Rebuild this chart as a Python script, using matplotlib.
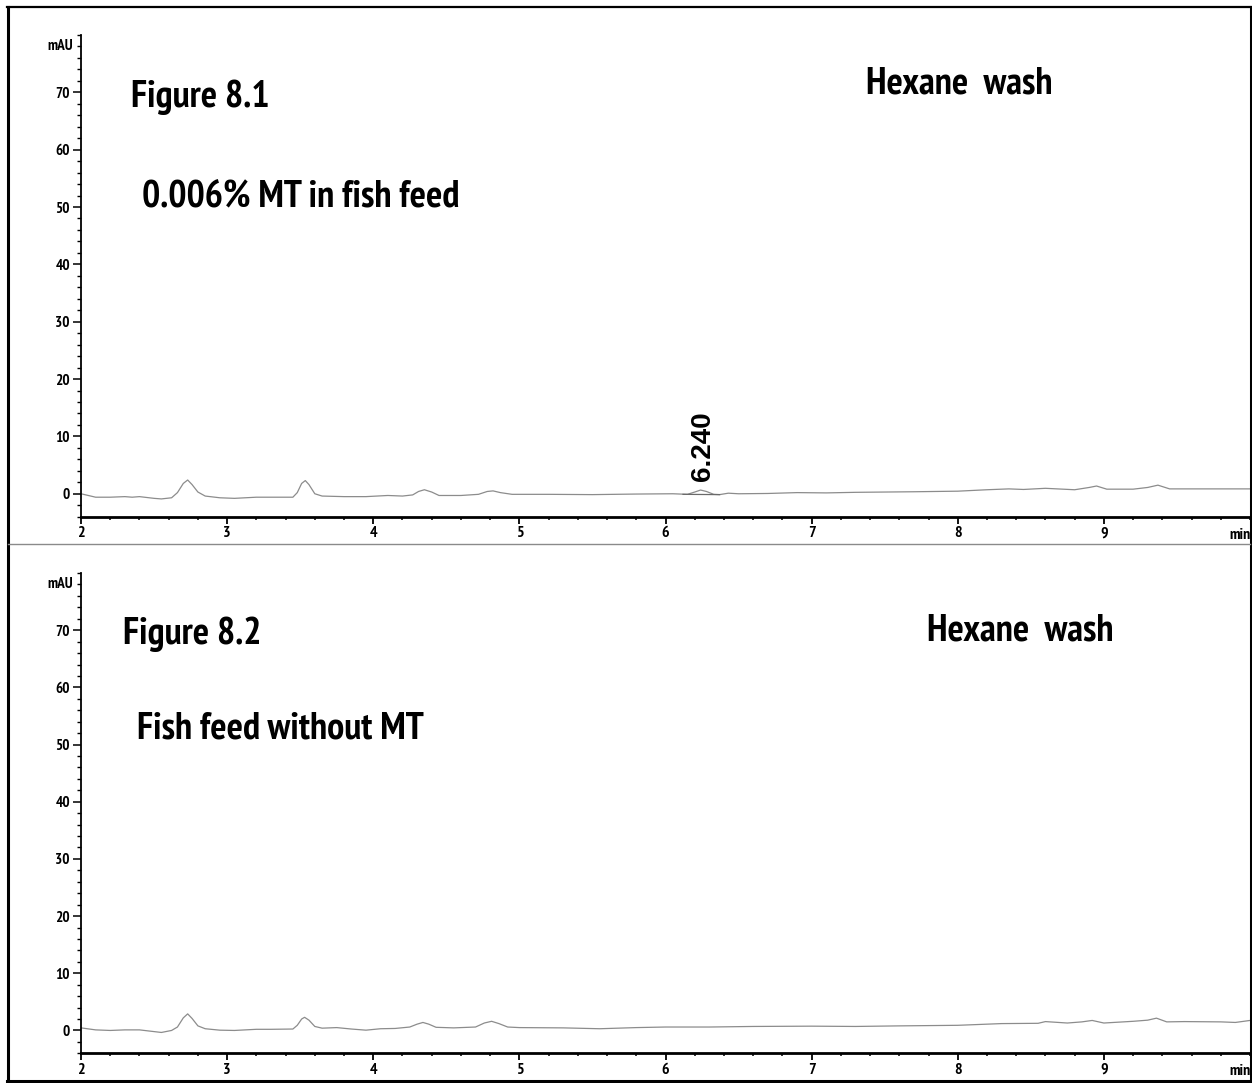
# hexane wash chromatograms, fish feed with and without MT

import matplotlib
matplotlib.use('Agg')
import matplotlib.pyplot as plt
from matplotlib import font_manager
from matplotlib.font_manager import FontProperties
from matplotlib.lines import Line2D
from matplotlib.ticker import MultipleLocator

# top trace: 0.006% MT in fish feed (time in min, signal in mAU)
t_mt = [2.00, 2.05, 2.10, 2.20, 2.30, 2.35, 2.40, 2.50, 2.55, 2.62, 2.66, 2.70,
        2.73, 2.76, 2.80, 2.85, 2.95, 3.05, 3.20, 3.30, 3.45, 3.48, 3.51, 3.535,
        3.56, 3.60, 3.65, 3.80, 3.95, 4.10, 4.20, 4.27, 4.31, 4.35, 4.40, 4.45,
        4.60, 4.72, 4.78, 4.82, 4.87, 4.95, 5.20, 5.50, 5.80, 6.05, 6.15, 6.20,
        6.24, 6.28, 6.33, 6.37, 6.43, 6.50, 6.70, 6.90, 7.10, 7.30, 7.50, 7.70,
        8.00, 8.20, 8.35, 8.45, 8.60, 8.80, 8.90, 8.95, 9.02, 9.20, 9.30, 9.37,
        9.45, 9.70, 10.00]
mau_mt = [0.0, -0.3, -0.6, -0.6, -0.5, -0.6, -0.5, -0.8, -0.9, -0.7, 0.2, 1.8,
          2.4, 1.6, 0.3, -0.4, -0.7, -0.8, -0.6, -0.6, -0.6, 0.2, 1.8, 2.3,
          1.6, 0.0, -0.4, -0.5, -0.5, -0.3, -0.4, -0.2, 0.4, 0.7, 0.3, -0.3,
          -0.3, -0.1, 0.4, 0.5, 0.2, -0.1, -0.1, -0.15, -0.05, 0.0, -0.1, 0.3,
          0.65, 0.4, -0.1, -0.15, 0.1, 0.0, 0.05, 0.2, 0.15, 0.25, 0.3, 0.35,
          0.45, 0.7, 0.85, 0.75, 0.95, 0.7, 1.1, 1.35, 0.8, 0.8, 1.1, 1.5,
          0.85, 0.85, 0.85]

# integration baseline under the 6.240 peak
base_t = [6.12, 6.37]
base_mau = [-0.1, -0.15]
peak_rt = 6.240
peak_mau = 0.65

# bottom trace: fish feed without MT
t_blank = [2.00, 2.10, 2.20, 2.30, 2.40, 2.50, 2.55, 2.62, 2.66, 2.70, 2.73,
           2.76, 2.80, 2.85, 2.95, 3.05, 3.20, 3.30, 3.45, 3.48, 3.51, 3.53,
           3.56, 3.60, 3.65, 3.75, 3.85, 3.95, 4.05, 4.15, 4.25, 4.30, 4.34,
           4.38, 4.43, 4.55, 4.70, 4.76, 4.81, 4.86, 4.92, 5.00, 5.30, 5.55,
           5.80, 6.00, 6.30, 6.60, 7.00, 7.30, 7.60, 8.00, 8.30, 8.55, 8.60,
           8.75, 8.85, 8.92, 9.00, 9.20, 9.30, 9.36, 9.43, 9.55, 9.80, 9.90,
           10.00]
mau_blank = [0.45, 0.1, 0.0, 0.1, 0.1, -0.2, -0.35, 0.0, 0.6, 2.2, 2.9,
             2.1, 0.8, 0.3, 0.05, 0.0, 0.2, 0.2, 0.25, 0.9, 2.0, 2.3,
             1.8, 0.7, 0.4, 0.5, 0.25, 0.05, 0.3, 0.35, 0.6, 1.1, 1.4,
             1.1, 0.55, 0.45, 0.6, 1.3, 1.6, 1.2, 0.6, 0.5, 0.45, 0.3,
             0.5, 0.6, 0.6, 0.7, 0.75, 0.7, 0.8, 0.9, 1.2, 1.25, 1.55,
             1.3, 1.5, 1.75, 1.3, 1.6, 1.8, 2.15, 1.5, 1.55, 1.5, 1.4,
             1.75]

y_major = [0, 10, 20, 30, 40, 50, 60, 70]
x_major = [2, 3, 4, 5, 6, 7, 8, 9]

# pick a bold condensed face for the labels
def weight_of(f):
    w = f.weight
    if isinstance(w, str):
        w = font_manager.weight_dict.get(w, 400)
    return w

def stretch_of(f):
    s = f.stretch
    if isinstance(s, str):
        s = font_manager.stretch_dict.get(s, 500)
    return s

cands = []
for f in font_manager.fontManager.ttflist:
    if f.style != 'normal' or weight_of(f) < 600:
        continue
    narrowish = ('Narrow' in f.name or 'Condensed' in f.name
                 or stretch_of(f) < 500)
    if not narrowish:
        continue
    if 'Narrow' in f.name:
        rank = 0
    elif 'Condensed' in f.name and 'DejaVu' not in f.name:
        rank = 1
    else:
        rank = 2
    cands.append((rank, abs(weight_of(f) - 700), f.fname))
cands.sort()

if cands:
    cond_file = cands[0][2]
    def cond(size):
        return FontProperties(fname=cond_file, size=size)
    cap_size, tick_size = 27.5, 11
else:
    def cond(size):
        return FontProperties(family='Liberation Sans', weight='bold', size=size)
    cap_size, tick_size = 22, 8.5

fig = plt.figure(figsize=(12.52, 10.83), dpi=100)
ax1 = fig.add_axes([0.0647, 0.5229, 0.9337, 0.4448])
ax2 = fig.add_axes([0.0647, 0.0274, 0.9337, 0.4435])

def style_axis(ax):
    ax.set_xlim(2, 10)
    ax.set_ylim(-4, 80)
    for s in ['top', 'right']:
        ax.spines[s].set_visible(False)
    ax.spines['left'].set_linewidth(1.3)
    ax.spines['bottom'].set_linewidth(2.0)
    ax.set_yticks(y_major)
    ax.set_yticklabels([str(v) for v in y_major], fontproperties=cond(tick_size))
    ax.yaxis.set_minor_locator(MultipleLocator(2))
    ax.set_xticks(x_major)
    ax.set_xticklabels([str(v) for v in x_major],
                       fontproperties=cond(tick_size + 0.5))
    ax.xaxis.set_minor_locator(MultipleLocator(0.2))
    ax.tick_params(axis='y', which='major', length=6, width=1.1, pad=2)
    ax.tick_params(axis='y', which='minor', length=3, width=1.0)
    ax.tick_params(axis='x', which='major', length=5, width=1.3, pad=2)
    ax.tick_params(axis='x', which='minor', length=2.5, width=1.1)
    ax.annotate('mAU', xy=(0, 78), xycoords=('axes fraction', 'data'),
                xytext=(-6, 0), textcoords='offset points', ha='right',
                va='center', fontproperties=cond(tick_size))
    ax.annotate('min', xy=(1, -4), xycoords=('axes fraction', 'data'),
                xytext=(-15, -13), textcoords='offset points', ha='left',
                va='center', fontproperties=cond(tick_size + 0.5))
    ax.patch.set_alpha(0)

style_axis(ax1)
style_axis(ax2)

ax1.plot(t_mt, mau_mt, color='#8c8c8c', lw=0.9)
ax1.plot(base_t, base_mau, color='#6a6a6a', lw=0.9)
ax1.text(peak_rt + 0.02, peak_mau + 1.6, '%.3f' % peak_rt, rotation=90,
         ha='center', va='bottom', fontsize=20, fontweight='bold',
         family=['Liberation Sans', 'DejaVu Sans'])

ax2.plot(t_blank, mau_blank, color='#8c8c8c', lw=0.9)

# panel captions
ax1.text(2.342, 67.4, 'Figure 8.1', va='baseline', fontproperties=cond(cap_size))
ax1.text(2.418, 50.0, '0.006% MT in fish feed', va='baseline',
         fontproperties=cond(cap_size))
ax1.text(7.37, 69.8, 'Hexane  wash', va='baseline', fontproperties=cond(cap_size))
ax2.text(2.288, 67.5, 'Figure 8.2', va='baseline', fontproperties=cond(cap_size))
ax2.text(2.384, 51.0, 'Fish feed without MT', va='baseline',
         fontproperties=cond(cap_size))
ax2.text(7.79, 68.2, 'Hexane  wash', va='baseline', fontproperties=cond(cap_size))

# outer frame and divider
W, H = 1252.0, 1083.0
def fx(px):
    return px / W
def fy(py):
    return 1 - py / H
fig.add_artist(Line2D([fx(8), fx(8)], [fy(7), fy(1081)], color='black', lw=2.2))
fig.add_artist(Line2D([fx(1250.5), fx(1250.5)], [fy(7), fy(1081)], color='black', lw=2.2))
fig.add_artist(Line2D([fx(7), fx(1251)], [fy(7), fy(7)], color='black', lw=1.6))
fig.add_artist(Line2D([fx(7), fx(1251)], [fy(1081), fy(1081)], color='black', lw=2.2))
fig.add_artist(Line2D([fx(8), fx(1250)], [fy(544), fy(544)], color='#8a8a8a', lw=1.0))

fig.savefig('out.png', dpi=100)
